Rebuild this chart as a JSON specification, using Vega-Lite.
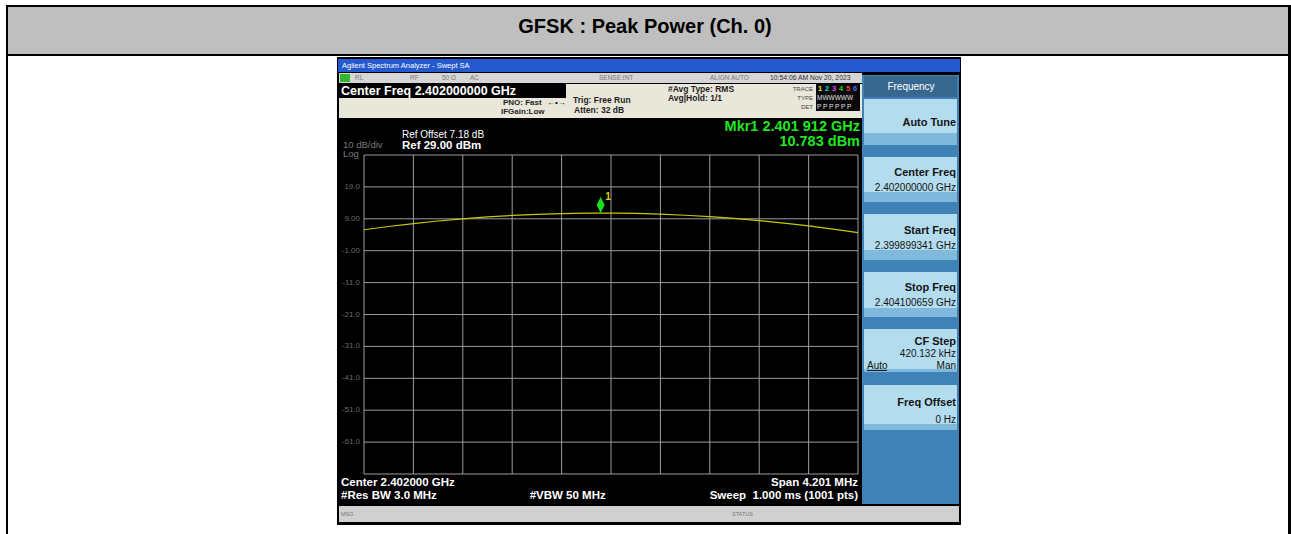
{
  "$schema": "https://vega.github.io/schema/vega-lite/v6.json",
  "width": 494,
  "height": 319,
  "autosize": {"type": "none"},
  "padding": {"left": 364, "top": 155, "right": 433, "bottom": 60},
  "background": "white",
  "config": {"view": {"stroke": null}, "font": "Liberation Sans"},
  "layer": [
    {
      "data": {"values": [
        {"part": "header", "freq": 2396.87167, "freq2": 2407.75768, "level": 75.395, "level2": 60.661},
        {"part": "border", "freq": 2396.85466, "freq2": 2407.78319, "level": 76.022, "level2": 75.395},
        {"part": "border", "freq": 2396.85466, "freq2": 2396.87167, "level": 76.022, "level2": -89.809},
        {"part": "border", "freq": 2407.75768, "freq2": 2407.78319, "level": 76.022, "level2": -89.809},
        {"part": "border", "freq": 2396.85466, "freq2": 2407.78319, "level": 60.661, "level2": 60.035},
        {"part": "screen", "freq": 2399.66971, "freq2": 2404.97664, "level": 59.721, "level2": -86.988},
        {"part": "titlebar", "freq": 2399.67822, "freq2": 2404.96814, "level": 59.094, "level2": 55.019},
        {"part": "statusrow", "freq": 2399.68672, "freq2": 2404.13468, "level": 54.705, "level2": 51.571},
        {"part": "lxi", "freq": 2399.69523, "freq2": 2399.78028, "level": 54.392, "level2": 51.884},
        {"part": "infopanel", "freq": 2399.68672, "freq2": 2404.13468, "level": 51.257, "level2": 40.599},
        {"part": "cfbox", "freq": 2399.68672, "freq2": 2401.61729, "level": 51.257, "level2": 46.868},
        {"part": "tracebox", "freq": 2403.74346, "freq2": 2404.11767, "level": 51.257, "level2": 42.793},
        {"part": "softpanel", "freq": 2404.13468, "freq2": 2404.95963, "level": 54.078, "level2": -80.405},
        {"part": "softhead", "freq": 2404.15169, "freq2": 2404.94262, "level": 53.765, "level2": 47.182},
        {"part": "button", "freq": 2404.15169, "freq2": 2404.94262, "level": 46.555, "level2": 32.135},
        {"part": "button", "freq": 2404.15169, "freq2": 2404.94262, "level": 28.373, "level2": 14.266},
        {"part": "button", "freq": 2404.15169, "freq2": 2404.94262, "level": 10.505, "level2": -3.915},
        {"part": "button", "freq": 2404.15169, "freq2": 2404.94262, "level": -7.677, "level2": -21.784},
        {"part": "button", "freq": 2404.15169, "freq2": 2404.94262, "level": -25.546, "level2": -39.025},
        {"part": "button", "freq": 2404.15169, "freq2": 2404.94262, "level": -43.1, "level2": -57.207},
        {"part": "buttonlo", "freq": 2404.15169, "freq2": 2404.94262, "level": 35.897, "level2": 32.135},
        {"part": "buttonlo", "freq": 2404.15169, "freq2": 2404.94262, "level": 17.401, "level2": 14.266},
        {"part": "buttonlo", "freq": 2404.15169, "freq2": 2404.94262, "level": -0.781, "level2": -3.915},
        {"part": "buttonlo", "freq": 2404.15169, "freq2": 2404.94262, "level": -18.962, "level2": -21.784},
        {"part": "buttonlo", "freq": 2404.15169, "freq2": 2404.94262, "level": -38.085, "level2": -39.025},
        {"part": "buttonlo", "freq": 2404.15169, "freq2": 2404.94262, "level": -55.326, "level2": -57.207},
        {"part": "underline", "freq": 2404.1772, "freq2": 2404.34729, "level": -38.398, "level2": -38.712},
        {"part": "msgbar", "freq": 2399.68672, "freq2": 2404.95963, "level": -81.031, "level2": -86.047}
      ]},
      "mark": {"type": "rect"},
      "encoding": {
        "x": {"field": "freq", "type": "quantitative", "scale": {"domain": [2399.899341, 2404.100659], "nice": false, "zero": false}, "axis": null},
        "x2": {"field": "freq2"},
        "y": {"field": "level", "type": "quantitative", "scale": {"domain": [-71, 29], "nice": false, "zero": false}, "axis": null},
        "y2": {"field": "level2"},
        "color": {"field": "part", "type": "nominal", "legend": null,
          "scale": {
            "domain": ["border", "header", "screen", "titlebar", "statusrow", "lxi", "infopanel", "cfbox", "tracebox", "softpanel", "softhead", "button", "buttonlo", "underline", "msgbar", "t1", "t2", "t3", "t4", "t5", "t6"],
            "range": ["#000000", "#bfbfbf", "#000000", "#2459d0", "#d6d6d6", "#2fb82f", "#e9e6da", "#000000", "#0a0a0a", "#3f82b8", "#37688f", "#b3dcee", "#7fb9dc", "#1a1a1a", "#d0d0d0", "#e8e800", "#00e0e0", "#e040e0", "#20d020", "#f04040", "#4a6cff"]
          }
        }
      }
    },
    {
      "data": {"values": [
        {"freq": 2399.899341}, {"freq": 2400.319473}, {"freq": 2400.739605}, {"freq": 2401.159736},
        {"freq": 2401.579868}, {"freq": 2402.0}, {"freq": 2402.420132}, {"freq": 2402.840264},
        {"freq": 2403.260395}, {"freq": 2403.680527}, {"freq": 2404.100659}
      ]},
      "mark": {"type": "rule", "color": "#9c9c9c", "strokeWidth": 1},
      "encoding": {
        "x": {"field": "freq", "type": "quantitative", "scale": {"domain": [2399.899341, 2404.100659], "nice": false, "zero": false}, "axis": null}
      }
    },
    {
      "data": {"values": [
        {"level": 29}, {"level": 19}, {"level": 9}, {"level": -1}, {"level": -11}, {"level": -21},
        {"level": -31}, {"level": -41}, {"level": -51}, {"level": -61}, {"level": -71}
      ]},
      "mark": {"type": "rule", "color": "#9c9c9c", "strokeWidth": 1},
      "encoding": {
        "y": {"field": "level", "type": "quantitative", "scale": {"domain": [-71, 29], "nice": false, "zero": false}, "axis": null}
      }
    },
    {
      "data": {"values": [
        {"freq": 2399.899341, "level": 19, "label": "19.0"},
        {"freq": 2399.899341, "level": 9, "label": "9.00"},
        {"freq": 2399.899341, "level": -1, "label": "-1.00"},
        {"freq": 2399.899341, "level": -11, "label": "-11.0"},
        {"freq": 2399.899341, "level": -21, "label": "-21.0"},
        {"freq": 2399.899341, "level": -31, "label": "-31.0"},
        {"freq": 2399.899341, "level": -41, "label": "-41.0"},
        {"freq": 2399.899341, "level": -51, "label": "-51.0"},
        {"freq": 2399.899341, "level": -61, "label": "-61.0"}
      ]},
      "mark": {"type": "text", "align": "right", "baseline": "middle", "dx": -4, "font": "Liberation Sans", "fontSize": 8, "color": "#6a6a6a"},
      "encoding": {
        "x": {"field": "freq", "type": "quantitative", "scale": {"domain": [2399.899341, 2404.100659], "nice": false, "zero": false}, "axis": null},
        "y": {"field": "level", "type": "quantitative", "scale": {"domain": [-71, 29], "nice": false, "zero": false}, "axis": null},
        "text": {"field": "label"}
      }
    },
    {
      "data": {"values": [
        {"freq": 2399.8993, "level": 5.56}, {"freq": 2400.1094, "level": 6.59}, {"freq": 2400.3195, "level": 7.51},
        {"freq": 2400.5295, "level": 8.31}, {"freq": 2400.7396, "level": 9.0}, {"freq": 2400.9497, "level": 9.58},
        {"freq": 2401.1597, "level": 10.05}, {"freq": 2401.3698, "level": 10.4}, {"freq": 2401.5799, "level": 10.64},
        {"freq": 2401.7899, "level": 10.76}, {"freq": 2401.912, "level": 10.78}, {"freq": 2402.0, "level": 10.77},
        {"freq": 2402.2101, "level": 10.67}, {"freq": 2402.4201, "level": 10.45}, {"freq": 2402.6302, "level": 10.12},
        {"freq": 2402.8403, "level": 9.68}, {"freq": 2403.0503, "level": 9.12}, {"freq": 2403.2604, "level": 8.45},
        {"freq": 2403.4705, "level": 7.67}, {"freq": 2403.6805, "level": 6.77}, {"freq": 2403.8906, "level": 5.76},
        {"freq": 2404.1007, "level": 4.64}
      ]},
      "mark": {"type": "line", "color": "#c8c80a", "strokeWidth": 1.2, "interpolate": "monotone"},
      "encoding": {
        "x": {"field": "freq", "type": "quantitative", "scale": {"domain": [2399.899341, 2404.100659], "nice": false, "zero": false}, "axis": null},
        "y": {"field": "level", "type": "quantitative", "scale": {"domain": [-71, 29], "nice": false, "zero": false}, "axis": null}
      }
    },
    {
      "data": {"values": [{"freq": 2401.912, "level": 10.783, "label": "1"}]},
      "layer": [
        {
          "mark": {"type": "point", "shape": "M0,0L0.5,-1L0,-2L-0.5,-1Z", "size": 256, "filled": true, "opacity": 1, "color": "#19e019"},
          "encoding": {
            "x": {"field": "freq", "type": "quantitative", "scale": {"domain": [2399.899341, 2404.100659], "nice": false, "zero": false}, "axis": null},
            "y": {"field": "level", "type": "quantitative", "scale": {"domain": [-71, 29], "nice": false, "zero": false}, "axis": null}
          }
        },
        {
          "mark": {"type": "text", "align": "center", "baseline": "middle", "dx": 7.5, "dy": -16.5, "fontSize": 10, "fontWeight": "bold", "color": "#d4d400", "font": "Liberation Sans"},
          "encoding": {
            "x": {"field": "freq", "type": "quantitative", "scale": {"domain": [2399.899341, 2404.100659], "nice": false, "zero": false}, "axis": null},
            "y": {"field": "level", "type": "quantitative", "scale": {"domain": [-71, 29], "nice": false, "zero": false}, "axis": null},
            "text": {"field": "label"}
          }
        }
      ]
    },
    {
      "data": {"values": [{"label": "GFSK : Peak Power (Ch. 0)", "freq": 2402.28916, "level": 69.125}]},
      "mark": {"type": "text", "align": "center", "baseline": "middle", "font": "Liberation Sans", "fontSize": 20, "fontWeight": "bold", "color": "#000000"},
      "encoding": {
        "x": {"field": "freq", "type": "quantitative", "scale": {"domain": [2399.899341, 2404.100659], "nice": false, "zero": false}, "axis": null},
        "y": {"field": "level", "type": "quantitative", "scale": {"domain": [-71, 29], "nice": false, "zero": false}, "axis": null},
        "text": {"field": "label"}
      }
    },
    {
      "data": {"values": [{"label": "Agilent Spectrum Analyzer - Swept SA", "freq": 2399.71224, "level": 57.056}]},
      "mark": {"type": "text", "align": "left", "baseline": "middle", "font": "Liberation Sans", "fontSize": 7.5, "color": "#ffffff"},
      "encoding": {
        "x": {"field": "freq", "type": "quantitative", "scale": {"domain": [2399.899341, 2404.100659], "nice": false, "zero": false}, "axis": null},
        "y": {"field": "level", "type": "quantitative", "scale": {"domain": [-71, 29], "nice": false, "zero": false}, "axis": null},
        "text": {"field": "label"}
      }
    },
    {
      "data": {"values": [
        {"label": "RL", "freq": 2399.8228, "level": 53.138},
        {"label": "RF", "freq": 2400.29056, "level": 53.138},
        {"label": "50 Ω", "freq": 2400.56271, "level": 53.138},
        {"label": "AC", "freq": 2400.80084, "level": 53.138},
        {"label": "SENSE:INT", "freq": 2401.89794, "level": 53.138},
        {"label": "ALIGN AUTO", "freq": 2402.84196, "level": 53.138}
      ]},
      "mark": {"type": "text", "align": "left", "baseline": "middle", "font": "Liberation Sans", "fontSize": 6.5, "color": "#7a7a7a"},
      "encoding": {
        "x": {"field": "freq", "type": "quantitative", "scale": {"domain": [2399.899341, 2404.100659], "nice": false, "zero": false}, "axis": null},
        "y": {"field": "level", "type": "quantitative", "scale": {"domain": [-71, 29], "nice": false, "zero": false}, "axis": null},
        "text": {"field": "label"}
      }
    },
    {
      "data": {"values": [{"label": "10:54:06 AM Nov 20, 2023", "freq": 2403.35225, "level": 53.138}]},
      "mark": {"type": "text", "align": "left", "baseline": "middle", "font": "Liberation Sans", "fontSize": 6.8, "color": "#333333"},
      "encoding": {
        "x": {"field": "freq", "type": "quantitative", "scale": {"domain": [2399.899341, 2404.100659], "nice": false, "zero": false}, "axis": null},
        "y": {"field": "level", "type": "quantitative", "scale": {"domain": [-71, 29], "nice": false, "zero": false}, "axis": null},
        "text": {"field": "label"}
      }
    },
    {
      "data": {"values": [{"label": "Center Freq 2.402000000 GHz", "freq": 2399.70373, "level": 49.063}]},
      "mark": {"type": "text", "align": "left", "baseline": "middle", "font": "Liberation Sans", "fontSize": 12.5, "fontWeight": "bold", "color": "#ffffff"},
      "encoding": {
        "x": {"field": "freq", "type": "quantitative", "scale": {"domain": [2399.899341, 2404.100659], "nice": false, "zero": false}, "axis": null},
        "y": {"field": "level", "type": "quantitative", "scale": {"domain": [-71, 29], "nice": false, "zero": false}, "axis": null},
        "text": {"field": "label"}
      }
    },
    {
      "data": {"values": [
        {"label": "PNO: Fast", "freq": 2401.08149, "level": 45.207},
        {"label": "←•→", "freq": 2401.4557, "level": 45.207},
        {"label": "IFGain:Low", "freq": 2401.06448, "level": 42.48}
      ]},
      "mark": {"type": "text", "align": "left", "baseline": "middle", "font": "Liberation Sans", "fontSize": 8, "fontWeight": "bold", "color": "#1e1e1e"},
      "encoding": {
        "x": {"field": "freq", "type": "quantitative", "scale": {"domain": [2399.899341, 2404.100659], "nice": false, "zero": false}, "axis": null},
        "y": {"field": "level", "type": "quantitative", "scale": {"domain": [-71, 29], "nice": false, "zero": false}, "axis": null},
        "text": {"field": "label"}
      }
    },
    {
      "data": {"values": [
        {"label": "Trig: Free Run", "freq": 2401.67682, "level": 46.241},
        {"label": "Atten: 32 dB", "freq": 2401.68533, "level": 43.107},
        {"label": "#Avg Type: RMS", "freq": 2402.48477, "level": 49.69},
        {"label": "Avg|Hold: 1/1", "freq": 2402.48477, "level": 46.962}
      ]},
      "mark": {"type": "text", "align": "left", "baseline": "middle", "font": "Liberation Sans", "fontSize": 8.5, "fontWeight": "bold", "color": "#1e1e1e"},
      "encoding": {
        "x": {"field": "freq", "type": "quantitative", "scale": {"domain": [2399.899341, 2404.100659], "nice": false, "zero": false}, "axis": null},
        "y": {"field": "level", "type": "quantitative", "scale": {"domain": [-71, 29], "nice": false, "zero": false}, "axis": null},
        "text": {"field": "label"}
      }
    },
    {
      "data": {"values": [
        {"label": "TRACE", "freq": 2403.71795, "level": 49.69},
        {"label": "TYPE", "freq": 2403.71795, "level": 46.868},
        {"label": "DET", "freq": 2403.71795, "level": 44.047}
      ]},
      "mark": {"type": "text", "align": "right", "baseline": "middle", "font": "Liberation Sans", "fontSize": 6, "color": "#444444"},
      "encoding": {
        "x": {"field": "freq", "type": "quantitative", "scale": {"domain": [2399.899341, 2404.100659], "nice": false, "zero": false}, "axis": null},
        "y": {"field": "level", "type": "quantitative", "scale": {"domain": [-71, 29], "nice": false, "zero": false}, "axis": null},
        "text": {"field": "label"}
      }
    },
    {
      "data": {"values": [
        {"label": "1", "part": "t1", "freq": 2403.77748, "level": 49.69},
        {"label": "2", "part": "t2", "freq": 2403.83701, "level": 49.69},
        {"label": "3", "part": "t3", "freq": 2403.89655, "level": 49.69},
        {"label": "4", "part": "t4", "freq": 2403.95608, "level": 49.69},
        {"label": "5", "part": "t5", "freq": 2404.01561, "level": 49.69},
        {"label": "6", "part": "t6", "freq": 2404.07515, "level": 49.69}
      ]},
      "mark": {"type": "text", "align": "center", "baseline": "middle", "font": "Liberation Sans", "fontSize": 7.5, "fontWeight": "bold"},
      "encoding": {
        "x": {"field": "freq", "type": "quantitative", "scale": {"domain": [2399.899341, 2404.100659], "nice": false, "zero": false}, "axis": null},
        "y": {"field": "level", "type": "quantitative", "scale": {"domain": [-71, 29], "nice": false, "zero": false}, "axis": null},
        "text": {"field": "label"},
        "color": {"field": "part", "type": "nominal", "legend": null,
          "scale": {
            "domain": ["border", "header", "screen", "titlebar", "statusrow", "lxi", "infopanel", "cfbox", "tracebox", "softpanel", "softhead", "button", "buttonlo", "underline", "msgbar", "t1", "t2", "t3", "t4", "t5", "t6"],
            "range": ["#000000", "#bfbfbf", "#000000", "#2459d0", "#d6d6d6", "#2fb82f", "#e9e6da", "#000000", "#0a0a0a", "#3f82b8", "#37688f", "#b3dcee", "#7fb9dc", "#1a1a1a", "#d0d0d0", "#e8e800", "#00e0e0", "#e040e0", "#20d020", "#f04040", "#4a6cff"]
          }
        }
      }
    },
    {
      "data": {"values": [
        {"label": "MWWWWW", "freq": 2403.75197, "level": 46.868},
        {"label": "P P P P P P", "freq": 2403.75197, "level": 44.047}
      ]},
      "mark": {"type": "text", "align": "left", "baseline": "middle", "font": "Liberation Sans", "fontSize": 6.5, "color": "#e0e0e0"},
      "encoding": {
        "x": {"field": "freq", "type": "quantitative", "scale": {"domain": [2399.899341, 2404.100659], "nice": false, "zero": false}, "axis": null},
        "y": {"field": "level", "type": "quantitative", "scale": {"domain": [-71, 29], "nice": false, "zero": false}, "axis": null},
        "text": {"field": "label"}
      }
    },
    {
      "data": {"values": [{"label": "Ref Offset 7.18 dB", "freq": 2400.22252, "level": 35.426}]},
      "mark": {"type": "text", "align": "left", "baseline": "middle", "font": "Liberation Sans", "fontSize": 10, "color": "#ffffff"},
      "encoding": {
        "x": {"field": "freq", "type": "quantitative", "scale": {"domain": [2399.899341, 2404.100659], "nice": false, "zero": false}, "axis": null},
        "y": {"field": "level", "type": "quantitative", "scale": {"domain": [-71, 29], "nice": false, "zero": false}, "axis": null},
        "text": {"field": "label"}
      }
    },
    {
      "data": {"values": [{"label": "Ref 29.00 dBm", "freq": 2400.22252, "level": 31.978}]},
      "mark": {"type": "text", "align": "left", "baseline": "middle", "font": "Liberation Sans", "fontSize": 11.5, "fontWeight": "bold", "color": "#ffffff"},
      "encoding": {
        "x": {"field": "freq", "type": "quantitative", "scale": {"domain": [2399.899341, 2404.100659], "nice": false, "zero": false}, "axis": null},
        "y": {"field": "level", "type": "quantitative", "scale": {"domain": [-71, 29], "nice": false, "zero": false}, "axis": null},
        "text": {"field": "label"}
      }
    },
    {
      "data": {"values": [
        {"label": "10 dB/div", "freq": 2399.72074, "level": 32.135},
        {"label": "Log", "freq": 2399.72074, "level": 29.313}
      ]},
      "mark": {"type": "text", "align": "left", "baseline": "middle", "font": "Liberation Sans", "fontSize": 9.5, "color": "#7a7a7a"},
      "encoding": {
        "x": {"field": "freq", "type": "quantitative", "scale": {"domain": [2399.899341, 2404.100659], "nice": false, "zero": false}, "axis": null},
        "y": {"field": "level", "type": "quantitative", "scale": {"domain": [-71, 29], "nice": false, "zero": false}, "axis": null},
        "text": {"field": "label"}
      }
    },
    {
      "data": {"values": [
        {"label": "Mkr1 2.401 912 GHz", "freq": 2404.11767, "level": 37.777},
        {"label": "10.783 dBm", "freq": 2404.11767, "level": 32.919}
      ]},
      "mark": {"type": "text", "align": "right", "baseline": "middle", "font": "Liberation Sans", "fontSize": 14.5, "fontWeight": "bold", "color": "#22e622"},
      "encoding": {
        "x": {"field": "freq", "type": "quantitative", "scale": {"domain": [2399.899341, 2404.100659], "nice": false, "zero": false}, "axis": null},
        "y": {"field": "level", "type": "quantitative", "scale": {"domain": [-71, 29], "nice": false, "zero": false}, "axis": null},
        "text": {"field": "label"}
      }
    },
    {
      "data": {"values": [
        {"label": "Center 2.402000 GHz", "freq": 2399.70373, "level": -73.665},
        {"label": "#Res BW 3.0 MHz", "freq": 2399.70373, "level": -77.834},
        {"label": "#VBW 50 MHz", "freq": 2401.30857, "level": -77.834}
      ]},
      "mark": {"type": "text", "align": "left", "baseline": "middle", "font": "Liberation Sans", "fontSize": 11.5, "fontWeight": "bold", "color": "#ffffff"},
      "encoding": {
        "x": {"field": "freq", "type": "quantitative", "scale": {"domain": [2399.899341, 2404.100659], "nice": false, "zero": false}, "axis": null},
        "y": {"field": "level", "type": "quantitative", "scale": {"domain": [-71, 29], "nice": false, "zero": false}, "axis": null},
        "text": {"field": "label"}
      }
    },
    {
      "data": {"values": [
        {"label": "Span 4.201 MHz", "freq": 2404.10066, "level": -73.665},
        {"label": "Sweep\u00a0 1.000 ms (1001 pts)", "freq": 2404.10066, "level": -77.834}
      ]},
      "mark": {"type": "text", "align": "right", "baseline": "middle", "font": "Liberation Sans", "fontSize": 11.5, "fontWeight": "bold", "color": "#ffffff"},
      "encoding": {
        "x": {"field": "freq", "type": "quantitative", "scale": {"domain": [2399.899341, 2404.100659], "nice": false, "zero": false}, "axis": null},
        "y": {"field": "level", "type": "quantitative", "scale": {"domain": [-71, 29], "nice": false, "zero": false}, "axis": null},
        "text": {"field": "label"}
      }
    },
    {
      "data": {"values": [{"label": "Frequency", "freq": 2404.55141, "level": 50.473}]},
      "mark": {"type": "text", "align": "center", "baseline": "middle", "font": "Liberation Sans", "fontSize": 10, "color": "#ffffff"},
      "encoding": {
        "x": {"field": "freq", "type": "quantitative", "scale": {"domain": [2399.899341, 2404.100659], "nice": false, "zero": false}, "axis": null},
        "y": {"field": "level", "type": "quantitative", "scale": {"domain": [-71, 29], "nice": false, "zero": false}, "axis": null},
        "text": {"field": "label"}
      }
    },
    {
      "data": {"values": [
        {"label": "Auto Tune", "freq": 2404.93412, "level": 39.031},
        {"label": "Center Freq", "freq": 2404.93412, "level": 23.263},
        {"label": "Start Freq", "freq": 2404.93412, "level": 5.27},
        {"label": "Stop Freq", "freq": 2404.93412, "level": -12.787},
        {"label": "CF Step", "freq": 2404.93412, "level": -29.527},
        {"label": "Freq Offset", "freq": 2404.93412, "level": -48.837}
      ]},
      "mark": {"type": "text", "align": "right", "baseline": "middle", "font": "Liberation Sans", "fontSize": 11, "fontWeight": "bold", "color": "#141414"},
      "encoding": {
        "x": {"field": "freq", "type": "quantitative", "scale": {"domain": [2399.899341, 2404.100659], "nice": false, "zero": false}, "axis": null},
        "y": {"field": "level", "type": "quantitative", "scale": {"domain": [-71, 29], "nice": false, "zero": false}, "axis": null},
        "text": {"field": "label"}
      }
    },
    {
      "data": {"values": [
        {"label": "2.402000000 GHz", "freq": 2404.93412, "level": 18.561},
        {"label": "2.399899341 GHz", "freq": 2404.93412, "level": 0.473},
        {"label": "2.404100659 GHz", "freq": 2404.93412, "level": -17.395},
        {"label": "420.132 kHz", "freq": 2404.93412, "level": -33.383},
        {"label": "Man", "freq": 2404.93412, "level": -37.05},
        {"label": "0 Hz", "freq": 2404.93412, "level": -54.072}
      ]},
      "mark": {"type": "text", "align": "right", "baseline": "middle", "font": "Liberation Sans", "fontSize": 10, "color": "#141414"},
      "encoding": {
        "x": {"field": "freq", "type": "quantitative", "scale": {"domain": [2399.899341, 2404.100659], "nice": false, "zero": false}, "axis": null},
        "y": {"field": "level", "type": "quantitative", "scale": {"domain": [-71, 29], "nice": false, "zero": false}, "axis": null},
        "text": {"field": "label"}
      }
    },
    {
      "data": {"values": [{"label": "Auto", "freq": 2404.1772, "level": -37.05}]},
      "mark": {"type": "text", "align": "left", "baseline": "middle", "font": "Liberation Sans", "fontSize": 10, "color": "#141414"},
      "encoding": {
        "x": {"field": "freq", "type": "quantitative", "scale": {"domain": [2399.899341, 2404.100659], "nice": false, "zero": false}, "axis": null},
        "y": {"field": "level", "type": "quantitative", "scale": {"domain": [-71, 29], "nice": false, "zero": false}, "axis": null},
        "text": {"field": "label"}
      }
    },
    {
      "data": {"values": [
        {"label": "MSG", "freq": 2399.70373, "level": -83.539},
        {"label": "STATUS", "freq": 2403.02907, "level": -83.539}
      ]},
      "mark": {"type": "text", "align": "left", "baseline": "middle", "font": "Liberation Sans", "fontSize": 5.5, "color": "#777777"},
      "encoding": {
        "x": {"field": "freq", "type": "quantitative", "scale": {"domain": [2399.899341, 2404.100659], "nice": false, "zero": false}, "axis": null},
        "y": {"field": "level", "type": "quantitative", "scale": {"domain": [-71, 29], "nice": false, "zero": false}, "axis": null},
        "text": {"field": "label"}
      }
    }
  ]
}
